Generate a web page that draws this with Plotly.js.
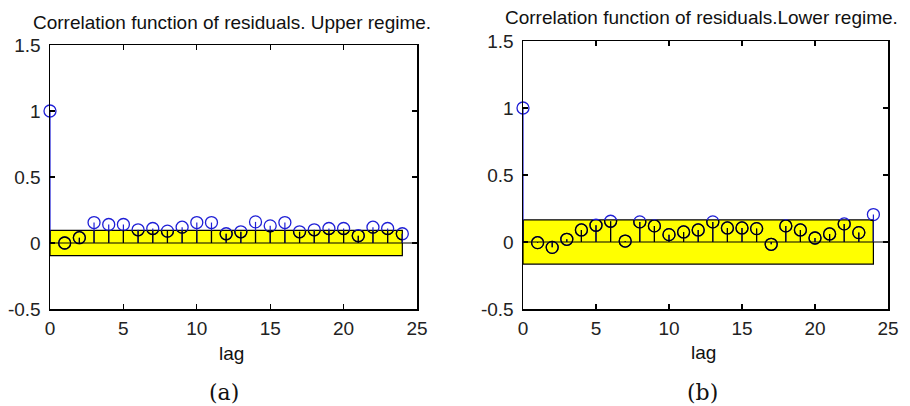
<!DOCTYPE html>
<html>
<head>
<meta charset="utf-8">
<script src="https://cdn.plot.ly/plotly-3.0.1.min.js"></script>
<style>
  html, body { margin: 0; padding: 0; background: #fff; }
  #chart { width: 910px; height: 406px; }
</style>
</head>
<body>
<div id="chart"></div>
<script>
// ---- data ----
const lags = [0,1,2,3,4,5,6,7,8,9,10,11,12,13,14,15,16,17,18,19,20,21,22,23,24];
const upperAcf = [1.0,0.0,0.04,0.155,0.14,0.14,0.10,0.11,0.09,0.12,0.155,0.155,0.07,0.085,0.16,0.13,0.155,0.085,0.10,0.11,0.11,0.055,0.12,0.11,0.07];
const lowerAcf = [1.0,-0.005,-0.04,0.02,0.09,0.125,0.155,0.007,0.15,0.12,0.055,0.075,0.09,0.15,0.105,0.105,0.10,-0.017,0.12,0.09,0.03,0.06,0.135,0.07,0.205];
const upperBound = 0.095;
const lowerBound = 0.165;
const panelTitles = ["Correlation function of residuals. Upper regime.", "Correlation function of residuals.Lower regime."];
const panelLabels = ["(a)", "(b)"];
const xTicks = [0,5,10,15,20,25];
const yTicks = [-0.5,0,0.5,1,1.5];
const xRange = [0, 25];
const yRange = [-0.5, 1.5];

// ---- build ----
const stemColor = '#1f1fd6';
function stems(vals, xa, ya, color, clip) {
  const sx = [], sy = [];
  lags.forEach((l, i) => { sx.push(l, l, null); sy.push(0, vals[i], null); });
  return {x: sx, y: sy, mode: 'lines', type: 'scatter', xaxis: xa, yaxis: ya,
          line: {color: color, width: 1.2}, hoverinfo: 'skip', showlegend: false, cliponaxis: clip};
}
function marks(vals, xa, ya, color, clip) {
  return {x: lags, y: vals, mode: 'markers', type: 'scatter', xaxis: xa, yaxis: ya,
          marker: {symbol: 'circle-open', size: 12, color: color, line: {width: 1.3, color: color}},
          showlegend: false, cliponaxis: clip};
}
function band(b, xref, yref) {
  return {type: 'rect', xref: xref, yref: yref, x0: lags[0], x1: lags[lags.length-1], y0: -b, y1: b,
          fillcolor: '#ffff00', line: {color: '#000', width: 1.2}, layer: 'below'};
}
function zeroLine(xref, yref) {
  return {type: 'line', xref: xref, yref: yref, x0: xRange[0], x1: xRange[1], y0: 0, y1: 0,
          line: {color: '#000', width: 1.2}, layer: 'below'};
}
const tickFont = {family: 'Liberation Sans, Arial, sans-serif', size: 19, color: '#222'};
function xax(domain, anchor) {
  return {domain: domain, anchor: anchor, range: xRange, tickvals: xTicks, ticktext: xTicks.map(String),
          ticks: 'inside', ticklen: 5, tickcolor: '#000', tickwidth: 1.2, showline: true, linecolor: '#000', linewidth: 1.5,
          mirror: 'allticks', showgrid: false, zeroline: false, tickfont: tickFont, ticklabelstandoff: 2};
}
function yax(domain, anchor) {
  return {domain: domain, anchor: anchor, range: yRange, tickvals: yTicks, ticktext: yTicks.map(String),
          ticks: 'inside', ticklen: 5, tickcolor: '#000', tickwidth: 1.2, showline: true, linecolor: '#000', linewidth: 1.5,
          mirror: 'allticks', showgrid: false, zeroline: false, tickfont: tickFont, ticklabelstandoff: 4};
}
// hidden axes covering exactly the band rectangle: traces on them are clipped to the band
function bandX(mainDomain, anchor) {
  const x0 = lags[0], x1 = lags[lags.length - 1];
  const f = v => mainDomain[0] + (v - xRange[0]) / (xRange[1] - xRange[0]) * (mainDomain[1] - mainDomain[0]);
  return {domain: [f(x0), f(x1)], range: [x0, x1], anchor: anchor, visible: false, fixedrange: true};
}
function bandY(mainDomain, b, anchor) {
  const f = v => mainDomain[0] + (v - yRange[0]) / (yRange[1] - yRange[0]) * (mainDomain[1] - mainDomain[0]);
  return {domain: [f(-b), f(b)], range: [-b, b], anchor: anchor, visible: false, fixedrange: true};
}
const W = 910, H = 406;
const px = v => v / W, py = v => 1 - v / H;
const xd1 = [px(50), px(417)], yd1 = [1 - 309 / H, 1 - 45 / H];
const xd2 = [px(523), px(888)], yd2 = [1 - 309 / H, 1 - 41 / H];

const data = [
  stems(upperAcf, 'x', 'y', stemColor, false), marks(upperAcf, 'x', 'y', stemColor, false),
  stems(lowerAcf, 'x2', 'y2', stemColor, false), marks(lowerAcf, 'x2', 'y2', stemColor, false),
  stems(upperAcf, 'x3', 'y3', '#000', true), marks(upperAcf, 'x3', 'y3', '#000', true),
  stems(lowerAcf, 'x4', 'y4', '#000', true), marks(lowerAcf, 'x4', 'y4', '#000', true)
];
const txtFont = {family: 'Liberation Sans, Arial, sans-serif', size: 19, color: '#111'};
const serifFont = {family: 'DejaVu Serif, serif', size: 22, color: '#111'};
const ann = (t, x, y, f) => ({text: t, x: px(x), y: py(y), xref: 'paper', yref: 'paper',
  xanchor: 'center', yanchor: 'middle', showarrow: false, font: f});

const layout = {
  width: W, height: H, margin: {l: 0, r: 0, t: 0, b: 0},
  paper_bgcolor: '#fff', plot_bgcolor: 'rgba(0,0,0,0)', showlegend: false,
  xaxis: xax(xd1, 'y'), yaxis: yax(yd1, 'x'),
  xaxis2: xax(xd2, 'y2'), yaxis2: yax(yd2, 'x2'),
  xaxis3: bandX(xd1, 'y3'), yaxis3: bandY(yd1, upperBound, 'x3'),
  xaxis4: bandX(xd2, 'y4'), yaxis4: bandY(yd2, lowerBound, 'x4'),
  shapes: [band(upperBound, 'x', 'y'), zeroLine('x', 'y'), band(lowerBound, 'x2', 'y2'), zeroLine('x2', 'y2')],
  annotations: [
    ann(panelTitles[0], 232, 23, txtFont),
    ann(panelTitles[1], 701, 17, txtFont),
    ann('lag', 231, 353, txtFont),
    ann('lag', 703, 352, txtFont),
    ann(panelLabels[0], 224, 392, serifFont),
    ann(panelLabels[1], 702, 392, serifFont)
  ]
};
Plotly.newPlot('chart', data, layout, {staticPlot: true});
</script>
</body>
</html>
